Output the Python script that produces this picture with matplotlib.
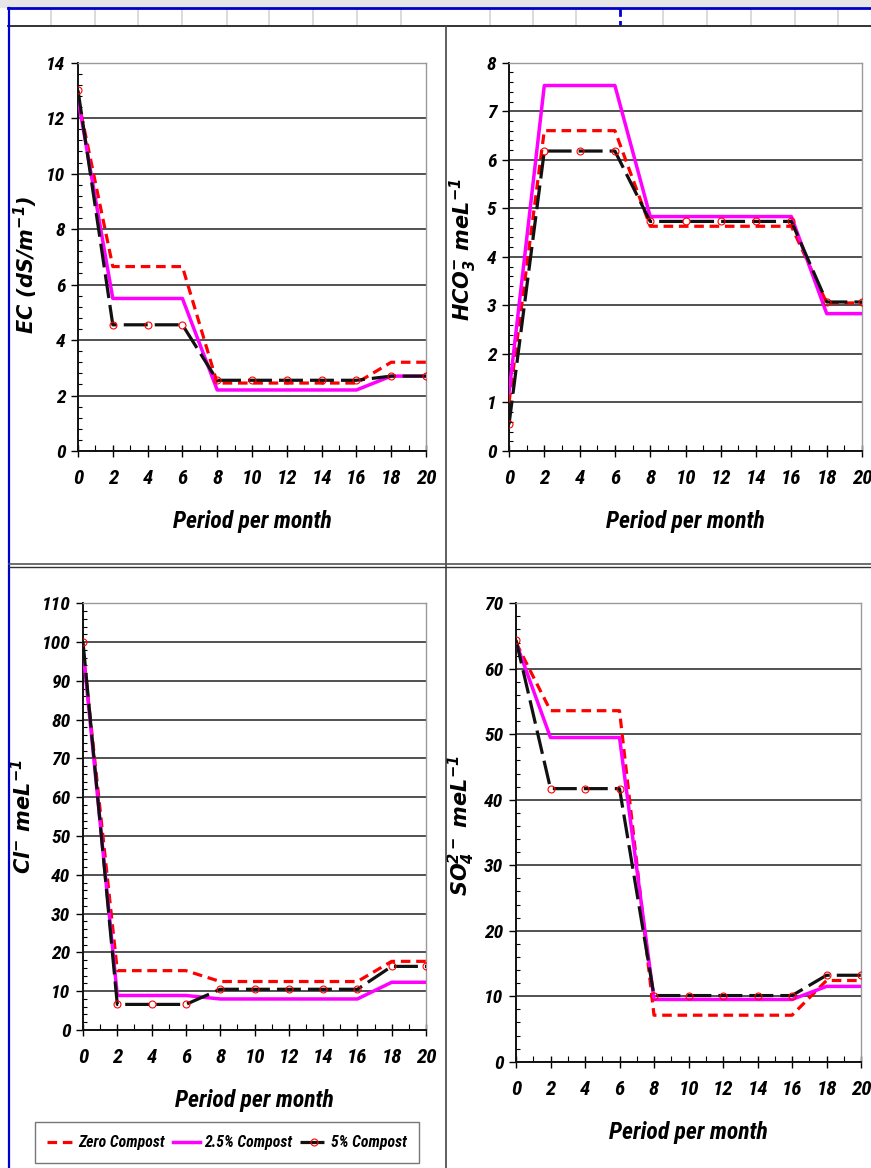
import matplotlib
matplotlib.use("Agg")
import matplotlib.pyplot as plt
from matplotlib import font_manager
from matplotlib.lines import Line2D
from matplotlib.ticker import MultipleLocator

W, H = 871, 1168

months = [0, 2, 4, 6, 8, 10, 12, 14, 16, 18, 20]

ec_zero = [12.7, 6.65, 6.65, 6.65, 2.45, 2.45, 2.45, 2.45, 2.45, 3.2, 3.2]
ec_25 = [12.7, 5.5, 5.5, 5.5, 2.2, 2.2, 2.2, 2.2, 2.2, 2.7, 2.7]
ec_5 = [13.0, 4.55, 4.55, 4.55, 2.55, 2.55, 2.55, 2.55, 2.55, 2.7, 2.7]

hco3_zero = [1.0, 6.6, 6.6, 6.6, 4.63, 4.63, 4.63, 4.63, 4.63, 3.05, 3.05]
hco3_25 = [1.2, 7.53, 7.53, 7.53, 4.83, 4.83, 4.83, 4.83, 4.83, 2.83, 2.83]
hco3_5 = [0.55, 6.18, 6.18, 6.18, 4.73, 4.73, 4.73, 4.73, 4.73, 3.07, 3.07]

cl_zero = [98, 15.3, 15.3, 15.3, 12.5, 12.5, 12.5, 12.5, 12.5, 17.7, 17.7]
cl_25 = [98, 8.9, 8.9, 8.9, 8.0, 8.0, 8.0, 8.0, 8.0, 12.3, 12.3]
cl_5 = [100, 6.6, 6.6, 6.6, 10.5, 10.5, 10.5, 10.5, 10.5, 16.4, 16.4]

so4_zero = [64.0, 53.6, 53.6, 53.6, 7.1, 7.1, 7.1, 7.1, 7.1, 12.4, 12.4]
so4_25 = [64.0, 49.5, 49.5, 49.5, 9.5, 9.5, 9.5, 9.5, 9.5, 11.5, 11.5]
so4_5 = [64.4, 41.7, 41.7, 41.7, 10.1, 10.1, 10.1, 10.1, 10.1, 13.2, 13.2]

series_names = ["Zero Compost", "2.5% Compost", "5% Compost"]

# the original uses a narrow bold italic face; take a condensed one if there is one
installed = {f.name for f in font_manager.fontManager.ttflist}
narrow, k = "Liberation Sans", 0.8
for cand in ["Liberation Sans Narrow", "Roboto Condensed", "Open Sans Condensed"]:
	if cand in installed:
		narrow, k = cand, 1.0
		break

plt.rcParams["mathtext.default"] = "regular"

fig = plt.figure(figsize=(W / 100, H / 100), dpi=100)


def box(l, t, r, b):
	return [l / W, 1 - b / H, (r - l) / W, (b - t) / H]


panels = [
	# (pixel box, ymax, major, ylabel, label pos, data)
	(box(78, 62.7, 426, 451), 14, 2, "EC (dS/m$^{-1}$)", (-0.109, 0.48), (ec_zero, ec_25, ec_5)),
	(box(509, 62.7, 862, 451), 8, 1, "HCO$_3^{-}$ meL$^{-1}$", (-0.085, 0.52), (hco3_zero, hco3_25, hco3_5)),
	(box(83, 603.3, 426, 1030), 110, 10, "Cl$^{-}$ meL$^{-1}$", (-0.14, 0.5), (cl_zero, cl_25, cl_5)),
	(box(516, 603.3, 861, 1061.7), 70, 10, "SO$_4^{2-}$ meL$^{-1}$", (-0.113, 0.516), (so4_zero, so4_25, so4_5)),
]

handles = []
for rect, ymax, major, ylab, lpos, (zero, p25, p5) in panels:
	ax = fig.add_axes(rect)
	l1, = ax.plot(months, zero, color="#ff0000", lw=2.3, linestyle=(0, (3.0, 1.8)), zorder=3)
	l2, = ax.plot(months, p25, color="#ff00ff", lw=2.5, zorder=4)
	l3, = ax.plot(months, p5, color="#111111", lw=2.3, linestyle=(0, (7.5, 2.2)),
				marker="o", ms=5, mfc="none", mec="#ff0000", mew=0.8, zorder=5)
	handles = [l1, l2, l3]

	ax.set_xlim(0, 20)
	ax.set_ylim(0, ymax)
	ax.xaxis.set_major_locator(MultipleLocator(2))
	ax.xaxis.set_minor_locator(MultipleLocator(1))
	ax.yaxis.set_major_locator(MultipleLocator(major))
	ax.yaxis.set_minor_locator(MultipleLocator(major / 5))
	ax.grid(True, axis="y", which="major", color="#222222", lw=1.1)
	ax.set_axisbelow(True)

	for s in ("top", "right"):
		ax.spines[s].set_color("#9a9a9a")
		ax.spines[s].set_linewidth(1.0)
	for s in ("left", "bottom"):
		ax.spines[s].set_color("#111111")
		ax.spines[s].set_linewidth(1.4)

	ax.tick_params(axis="y", which="major", direction="out", length=5, width=1, pad=4)
	ax.tick_params(axis="y", which="minor", direction="in", length=3, width=0.8)
	ax.tick_params(axis="x", which="major", direction="inout", length=8, width=1, pad=9)
	ax.tick_params(axis="x", which="minor", direction="in", length=4, width=0.8)

	for t in ax.get_yticklabels():
		t.set_family(narrow)
		t.set_fontsize(14 * k)
		t.set_fontweight("bold")
		t.set_fontstyle("italic")
	for t in ax.get_xticklabels():
		t.set_family(narrow)
		t.set_fontsize(15 * k)
		t.set_fontweight("bold")
		t.set_fontstyle("italic")

	ax.set_xlabel("Period per month", family=narrow, fontsize=17 * k, fontweight="bold",
				  fontstyle="italic", labelpad=16)
	ax.set_ylabel(ylab, family="DejaVu Sans", fontsize=15, fontweight="bold", fontstyle="italic")
	ax.yaxis.set_label_coords(*lpos)

leg = fig.legend(handles, series_names, loc="center", ncol=3,
				 bbox_to_anchor=(227 / W, 1 - 1142.5 / H),
				 prop={"family": narrow, "size": 11.3 * k, "weight": "bold", "style": "italic"},
				 frameon=True, fancybox=False, edgecolor="#555555", handlelength=1.7,
				 handletextpad=0.25, columnspacing=0.55, borderpad=0.8, borderaxespad=0)
leg.get_frame().set_linewidth(1.0)


# sheet decorations around the charts
def px_line(x0, y0, x1, y1, **kw):
	fig.add_artist(Line2D([x0 / W, x1 / W], [1 - y0 / H, 1 - y1 / H], transform=fig.transFigure, **kw))


fig.patches.append(plt.Rectangle((0, 1 - 7 / H), 1, 7 / H, transform=fig.transFigure,
								 color="#e6e6e6", zorder=0))
for cx in [51, 95, 138, 182, 227, 269, 313, 357, 401, 490, 533, 576, 663, 707, 751, 795, 838]:
	px_line(cx, 8, cx, 25, color="#d4d4d4", lw=1.2)
px_line(620, 8, 620, 25, color="#0000cc", lw=2, linestyle=(0, (3, 1.5)))
px_line(8, 7.5, W, 7.5, color="#0000cc", lw=2)
px_line(8, 25.5, W, 25.5, color="#222222", lw=1.3)
px_line(8.5, 7.5, 8.5, H, color="#0000cc", lw=1.6)
px_line(446, 26, 446, H, color="#444444", lw=1.2)
px_line(9, 564, W, 564, color="#555555", lw=1.2)
px_line(9, 566.5, W, 566.5, color="#333333", lw=1.0)

fig.savefig("out.png", dpi=100)
